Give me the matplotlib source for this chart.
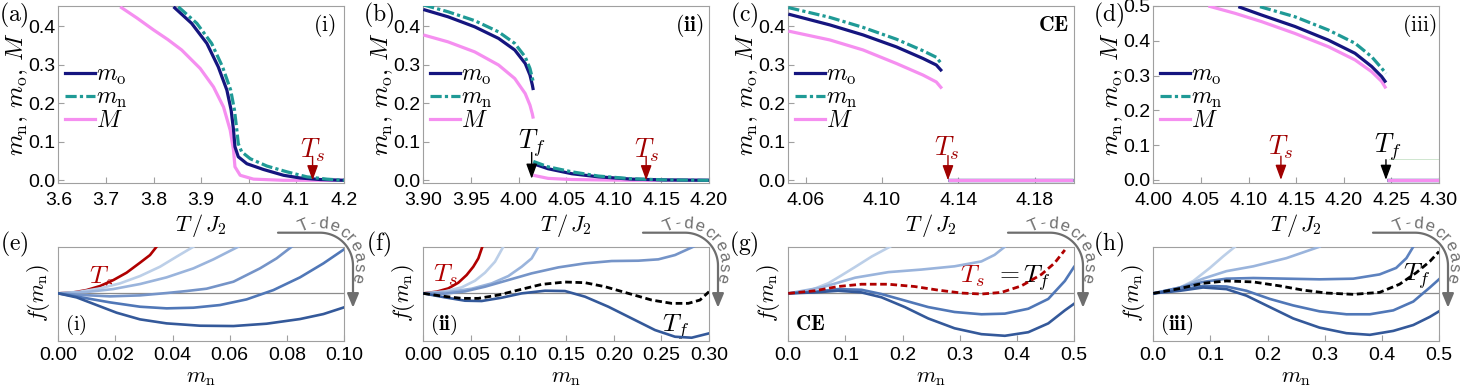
import numpy as np
import matplotlib
matplotlib.use("Agg")
import matplotlib.pyplot as plt
from matplotlib.path import Path
from matplotlib.patches import FancyArrowPatch
from matplotlib.lines import Line2D

plt.rcParams['mathtext.fontset'] = 'cm'
plt.rcParams['font.family'] = ['Liberation Sans', 'DejaVu Sans']

W, H = 1460, 386
SANS = 'Liberation Sans'

# ===================== top row data (order parameters vs T/J2) =====================
# (a) case (i)
a_T_M = [3.730, 3.765, 3.800, 3.830, 3.859, 3.898, 3.926, 3.947, 3.961, 3.968, 3.971, 3.982, 4.010, 4.073, 4.200]
a_M = [0.450, 0.421, 0.390, 0.365, 0.338, 0.290, 0.242, 0.190, 0.130, 0.078, 0.035, 0.013, 0.003, 0.000, 0.000]
a_T_mo = [3.842, 3.880, 3.912, 3.936, 3.954, 3.963, 3.968, 3.971, 3.978, 3.996, 4.031, 4.073, 4.108, 4.150, 4.200]
a_mo = [0.450, 0.407, 0.355, 0.294, 0.234, 0.182, 0.130, 0.087, 0.061, 0.043, 0.028, 0.013, 0.006, 0.002, 0.000]
a_T_mn = [3.852, 3.891, 3.922, 3.945, 3.962, 3.970, 3.975, 3.978, 3.985, 4.003, 4.038, 4.080, 4.122, 4.164, 4.200]
a_mn = [0.450, 0.407, 0.355, 0.294, 0.234, 0.182, 0.130, 0.095, 0.074, 0.056, 0.037, 0.022, 0.009, 0.003, 0.000]

# (b) case (ii)
b_T_hi = [3.900, 3.926, 3.954, 3.979, 3.996, 4.007, 4.012, 4.0145, 4.0155]
b_mo_hi = [0.443, 0.424, 0.398, 0.368, 0.338, 0.303, 0.273, 0.247, 0.234]
b_mn_hi = [0.455, 0.437, 0.414, 0.385, 0.355, 0.320, 0.290, 0.265, 0.255]
b_M_hi = [0.377, 0.359, 0.333, 0.299, 0.264, 0.225, 0.195, 0.172, 0.160]
b_T_lo = [4.0155, 4.031, 4.056, 4.084, 4.119, 4.154, 4.200]
b_mo_lo = [0.043, 0.030, 0.017, 0.009, 0.003, 0.001, 0.000]
b_mn_lo = [0.049, 0.035, 0.022, 0.011, 0.004, 0.001, 0.000]
b_M_lo = [0.013, 0.005, 0.002, 0.001, 0.000, 0.000, 0.000]

# (c) critical endpoint
c_T_hi = [4.051, 4.0727, 4.0901, 4.1075, 4.1214, 4.1284, 4.1313]
c_mo_hi = [0.431, 0.403, 0.377, 0.346, 0.316, 0.299, 0.283]
c_mn_hi = [0.448, 0.4225, 0.3965, 0.366, 0.336, 0.319, 0.301]
c_M_hi = [0.387, 0.364, 0.338, 0.303, 0.273, 0.255, 0.238]
c_T_lo = [4.1345, 4.200]
c_lo = [0.0, 0.0]

# (d) case (iii)
d_T_mo_hi = [4.0893, 4.1138, 4.1488, 4.1838, 4.2118, 4.2293, 4.2398, 4.2443]
d_mo_hi = [0.498, 0.474, 0.441, 0.402, 0.364, 0.326, 0.297, 0.280]
d_T_mn_hi = [4.112, 4.1488, 4.1838, 4.2118, 4.2293, 4.2398, 4.2443]
d_mn_hi = [0.498, 0.469, 0.431, 0.393, 0.354, 0.321, 0.306]
d_T_M_hi = [4.0578, 4.0858, 4.1138, 4.1488, 4.1838, 4.2118, 4.2293, 4.2398, 4.2443]
d_M_hi = [0.500, 0.479, 0.455, 0.421, 0.383, 0.345, 0.311, 0.283, 0.263]
d_T_lo = [4.2455, 4.300]
d_lo = [0.0, 0.0]
d_T_faint = [4.247, 4.300]
d_faint = [0.060, 0.060]

# transition temperatures
Ts = 4.134
Tf_b = 4.0138
Tf_d = 4.2443

# ===================== bottom row data (free energy f(m_n)) =====================
# (e)
e_m_red = [0, 0.0053, 0.0099, 0.0146, 0.0193, 0.0239, 0.0286, 0.0321, 0.0344]
e_f_red = [0, 0.021, 0.071, 0.157, 0.286, 0.443, 0.657, 0.821, 1.000]
e_m_1 = [0, 0.0076, 0.0146, 0.0216, 0.0286, 0.0356, 0.0414, 0.0473]
e_f_1 = [0, 0.036, 0.107, 0.214, 0.371, 0.571, 0.786, 1.000]
e_m_2 = [0, 0.0099, 0.0193, 0.0286, 0.0379, 0.0473, 0.0543, 0.0630]
e_f_2 = [0, 0.029, 0.093, 0.200, 0.343, 0.536, 0.729, 1.000]
e_m_3 = [0, 0.0088, 0.0181, 0.0286, 0.0379, 0.0449, 0.0519, 0.0613, 0.0706, 0.0764, 0.0817]
e_f_3 = [0, -0.036, -0.064, -0.043, 0.007, 0.050, 0.100, 0.250, 0.536, 0.750, 1.000]
e_m_4 = [0, 0.0088, 0.0181, 0.0286, 0.0379, 0.0473, 0.0566, 0.0659, 0.0753, 0.0846, 0.0928, 0.1000]
e_f_4 = [0, -0.093, -0.193, -0.286, -0.321, -0.307, -0.250, -0.129, 0.071, 0.343, 0.643, 0.943]
e_m_5 = [0, 0.0064, 0.0134, 0.0204, 0.0286, 0.0379, 0.0496, 0.0613, 0.0729, 0.0846, 0.0928, 0.1000]
e_f_5 = [0, -0.086, -0.250, -0.414, -0.557, -0.643, -0.693, -0.700, -0.650, -0.550, -0.443, -0.300]

# (f)
f_m_red = [0, 0.0140, 0.0263, 0.0368, 0.0455, 0.0525, 0.0578, 0.0620]
f_f_red = [0, 0.036, 0.107, 0.229, 0.393, 0.571, 0.750, 1.000]
f_m_1 = [0, 0.0228, 0.0403, 0.0543, 0.0648, 0.0753, 0.0840]
f_f_1 = [0, 0.043, 0.129, 0.271, 0.443, 0.679, 1.000]
f_m_2 = [0, 0.0263, 0.0508, 0.0718, 0.0893, 0.1033, 0.1138, 0.1208]
f_f_2 = [0, 0.029, 0.100, 0.214, 0.371, 0.571, 0.750, 1.000]
f_m_3 = [0, 0.0228, 0.0438, 0.0648, 0.0893, 0.1138, 0.1418, 0.1698, 0.1978, 0.2258, 0.2468, 0.2643, 0.2836]
f_f_3 = [0, -0.007, 0.043, 0.143, 0.286, 0.429, 0.557, 0.643, 0.693, 0.700, 0.729, 0.821, 1.000]
f_m_Tf = [0, 0.0193, 0.0403, 0.0578, 0.0788, 0.0998, 0.1243, 0.1488, 0.1698, 0.1908, 0.2153, 0.2398, 0.2608, 0.2783, 0.2905, 0.3000]
f_f_Tf = [0, -0.057, -0.107, -0.107, -0.036, 0.071, 0.193, 0.243, 0.229, 0.143, 0.000, -0.143, -0.214, -0.214, -0.143, 0.036]
f_m_5 = [0, 0.0228, 0.0438, 0.0613, 0.0823, 0.1033, 0.1278, 0.1488, 0.1698, 0.1943, 0.2188, 0.2433, 0.2643, 0.2818, 0.3000]
f_f_5 = [0, -0.086, -0.157, -0.164, -0.093, 0.000, 0.057, 0.050, -0.071, -0.286, -0.536, -0.786, -0.929, -0.950, -0.857]

# (g)
g_m_1 = [0, 0.035, 0.070, 0.093, 0.117, 0.146, 0.178]
g_f_1 = [0, 0.049, 0.217, 0.385, 0.566, 0.790, 1.000]
g_m_2 = [0, 0.058, 0.117, 0.175, 0.233, 0.291, 0.338, 0.361, 0.379]
g_f_2 = [0, 0.126, 0.336, 0.455, 0.510, 0.580, 0.685, 0.825, 1.000]
g_m_red = [0, 0.047, 0.087, 0.128, 0.175, 0.221, 0.262, 0.303, 0.338, 0.373, 0.408, 0.443, 0.466, 0.484]
g_f_red = [0, 0.056, 0.147, 0.196, 0.196, 0.147, 0.070, 0.007, -0.014, 0.021, 0.161, 0.406, 0.650, 0.930]
g_m_3 = [0, 0.047, 0.087, 0.128, 0.163, 0.204, 0.245, 0.291, 0.338, 0.379, 0.420, 0.455, 0.484, 0.500]
g_f_3 = [0, 0.035, 0.091, 0.077, -0.014, -0.154, -0.294, -0.399, -0.448, -0.434, -0.329, -0.119, 0.266, 0.566]
g_m_4 = [0, 0.047, 0.087, 0.128, 0.163, 0.204, 0.245, 0.291, 0.338, 0.379, 0.420, 0.455, 0.484, 0.500]
g_f_4 = [0, 0.021, 0.056, 0.021, -0.084, -0.294, -0.538, -0.748, -0.874, -0.909, -0.832, -0.643, -0.364, -0.224]

# (h)
h_m_1 = [0, 0.035, 0.070, 0.099, 0.122, 0.143]
h_f_1 = [0, 0.056, 0.266, 0.545, 0.790, 1.000]
h_m_2 = [0, 0.047, 0.087, 0.128, 0.175, 0.233, 0.291]
h_f_2 = [0, 0.126, 0.315, 0.476, 0.580, 0.755, 1.000]
h_m_3 = [0, 0.047, 0.087, 0.128, 0.175, 0.233, 0.291, 0.350, 0.396, 0.425, 0.443, 0.455]
h_f_3 = [0, 0.126, 0.245, 0.315, 0.329, 0.315, 0.301, 0.315, 0.406, 0.545, 0.755, 1.000]
h_m_Tf = [0, 0.047, 0.087, 0.128, 0.175, 0.221, 0.262, 0.303, 0.350, 0.396, 0.431, 0.460, 0.484, 0.500]
h_f_Tf = [0, 0.105, 0.217, 0.266, 0.245, 0.161, 0.070, 0.007, -0.021, 0.021, 0.196, 0.441, 0.685, 0.895]
h_m_4 = [0, 0.047, 0.087, 0.128, 0.163, 0.204, 0.245, 0.291, 0.338, 0.379, 0.420, 0.455, 0.484, 0.500]
h_f_4 = [0, 0.077, 0.161, 0.147, 0.056, -0.119, -0.259, -0.385, -0.448, -0.448, -0.364, -0.175, 0.126, 0.301]
h_m_5 = [0, 0.047, 0.087, 0.128, 0.163, 0.204, 0.245, 0.291, 0.338, 0.379, 0.420, 0.455, 0.484, 0.500]
h_f_5 = [0, 0.056, 0.126, 0.091, -0.049, -0.294, -0.538, -0.734, -0.853, -0.888, -0.804, -0.678, -0.503, -0.385]

# ===================== styles =====================
NAVY = '#15157f'
TEAL = '#1f9a96'
PINK = '#f58ff0'
RED = '#b00000'
ARED = '#a00000'
GRAY = '#a0a0a0'
B1, B2, B3, B4, B5 = '#bccfe8', '#9ab4dc', '#7594c8', '#5077b7', '#34599a'
TEAL_LS = (0, (3.5, 1.0, 1.0, 1.0))
BLK_LS = (0, (2.4, 1.3))
LW_TOP = 2.3
LW_BOT = 1.9

fig = plt.figure(figsize=(W / 100, H / 100), dpi=100)

lefts = [58.3, 423.3, 788.3, 1153.3]
aw = 285.7
top_ax = [fig.add_axes([l / W, 1 - 183 / H, aw / W, 177 / H]) for l in lefts]
bot_ax = [fig.add_axes([l / W, 1 - 340.7 / H, aw / W, 94 / H]) for l in lefts]


def style(ax, padx):
    for s in ax.spines.values():
        s.set_color(GRAY)
        s.set_linewidth(0.8)
    ax.tick_params(direction='in', length=4, width=0.8, color=GRAY,
                   labelsize=14, labelcolor='black')
    ax.tick_params(axis='x', pad=padx)
    ax.tick_params(axis='y', pad=2.0)
    for lbl in ax.get_xticklabels() + ax.get_yticklabels():
        lbl.set_fontfamily(SANS)


def arrow(ax, x, y0, y1, color):
    ax.annotate('', xy=(x, y1), xytext=(x, y0),
                arrowprops=dict(arrowstyle='-|>,head_length=0.6,head_width=0.22',
                                color=color, lw=1.0, mutation_scale=15,
                                shrinkA=0, shrinkB=0), zorder=6)


# ---------------- top panels ----------------
top_cfg = [
    dict(xlim=(3.6, 4.2), xt=np.arange(3.6, 4.21, 0.1), fmt='%.1f',
         ylim=(-0.007, 0.452), yt=np.arange(0, 0.41, 0.1), tag=r'$\mathrm{(i)}$'),
    dict(xlim=(3.9, 4.2), xt=np.arange(3.9, 4.201, 0.05), fmt='%.2f',
         ylim=(-0.007, 0.452), yt=np.arange(0, 0.41, 0.1), tag=r'$\mathbf{(ii)}$'),
    dict(xlim=(4.051, 4.2004), xt=[4.06, 4.10, 4.14, 4.18], fmt='%.2f',
         ylim=(-0.007, 0.452), yt=np.arange(0, 0.41, 0.1), tag=r'$\mathbf{CE}$'),
    dict(xlim=(4.0, 4.3), xt=np.arange(4.0, 4.301, 0.05), fmt='%.2f',
         ylim=(-0.009, 0.5), yt=np.arange(0, 0.51, 0.1), tag=r'$\mathrm{(iii)}$'),
]

top_lines = [
    [(a_T_M, a_M, PINK, '-'), (a_T_mo, a_mo, NAVY, '-'), (a_T_mn, a_mn, TEAL, TEAL_LS)],
    [(b_T_hi, b_M_hi, PINK, '-'), (b_T_hi, b_mo_hi, NAVY, '-'), (b_T_hi, b_mn_hi, TEAL, TEAL_LS),
     (b_T_lo, b_M_lo, PINK, '-'), (b_T_lo, b_mo_lo, NAVY, '-'), (b_T_lo, b_mn_lo, TEAL, TEAL_LS)],
    [(c_T_hi, c_M_hi, PINK, '-'), (c_T_hi, c_mo_hi, NAVY, '-'), (c_T_hi, c_mn_hi, TEAL, TEAL_LS),
     (c_T_lo, c_lo, NAVY, '-'), (c_T_lo, c_lo, TEAL, '-'), (c_T_lo, c_lo, PINK, '-')],
    [(d_T_M_hi, d_M_hi, PINK, '-'), (d_T_mo_hi, d_mo_hi, NAVY, '-'), (d_T_mn_hi, d_mn_hi, TEAL, TEAL_LS),
     (d_T_lo, d_lo, NAVY, '-'), (d_T_lo, d_lo, TEAL, '-'), (d_T_lo, d_lo, PINK, '-')],
]

for ax, cfg, lines in zip(top_ax, top_cfg, top_lines):
    for x, y, c, ls in lines:
        ax.plot(x, y, color=c, ls=ls, lw=LW_TOP, solid_capstyle='butt',
                solid_joinstyle='round', zorder=3)
    ax.set_xlim(*cfg['xlim'])
    ax.set_ylim(*cfg['ylim'])
    ax.set_xticks(cfg['xt'])
    ax.set_xticklabels([cfg['fmt'] % v for v in cfg['xt']])
    ax.set_yticks(cfg['yt'])
    ax.set_yticklabels(['%.1f' % v for v in cfg['yt']])
    style(ax, 6.5)
    ax.set_xlabel(r'$T\,/\,J_2$', fontsize=16)
    ax.xaxis.set_label_coords(0.5, -0.162)
    ax.set_ylabel(r'$m_\mathrm{n},\, m_\mathrm{o},\, M$', fontsize=18)
    ax.yaxis.set_label_coords(-0.1, 0.5)
    ax.text(0.93, 0.89, cfg['tag'], transform=ax.transAxes, fontsize=15.5,
            ha='center', va='center')
    handles = [Line2D([], [], color=NAVY, lw=LW_TOP),
               Line2D([], [], color=TEAL, lw=LW_TOP, ls=TEAL_LS),
               Line2D([], [], color=PINK, lw=LW_TOP)]
    ax.legend(handles, [r'$m_\mathrm{o}$', r'$m_\mathrm{n}$', r'$M$'],
              loc='center left', bbox_to_anchor=(0.024, 0.48), frameon=False,
              fontsize=17, handlelength=1.25, handletextpad=0.05,
              labelspacing=0.0, borderaxespad=0.0, borderpad=0.0)

top_ax[3].plot(d_T_faint, d_faint, color='#cfe6cf', lw=0.7, zorder=2)

# transition markers
ax = top_ax[0]
ax.text(Ts, 0.078, r'$T_s$', color=ARED, fontsize=19, ha='center', va='center')
arrow(ax, Ts, 0.062, 0.0, ARED)
ax = top_ax[1]
ax.text(Ts, 0.078, r'$T_s$', color=ARED, fontsize=19, ha='center', va='center')
arrow(ax, Ts, 0.062, 0.0, ARED)
ax.text(Tf_b + 0.0005, 0.097, r'$T_f$', color='black', fontsize=19, ha='center', va='center')
arrow(ax, Tf_b, 0.072, 0.004, 'black')
ax = top_ax[2]
ax.text(Ts, 0.082, r'$T_s$', color=ARED, fontsize=19, ha='center', va='center')
arrow(ax, Ts + 0.0005, 0.064, 0.0, ARED)
ax = top_ax[3]
ax.text(Ts, 0.094, r'$T_s$', color=ARED, fontsize=19, ha='center', va='center')
arrow(ax, Ts, 0.068, 0.0, ARED)
ax.text(Tf_d + 0.002, 0.094, r'$T_f$', color='black', fontsize=19, ha='center', va='center')
arrow(ax, Tf_d, 0.058, 0.0, 'black')

# ---------------- bottom panels ----------------
bot_cfg = [
    dict(xmax=0.10, xt=np.arange(0, 0.101, 0.02), fmt='%.2f', tag=r'$\mathrm{(i)}$'),
    dict(xmax=0.30, xt=np.arange(0, 0.301, 0.05), fmt='%.2f', tag=r'$\mathbf{(ii)}$'),
    dict(xmax=0.50, xt=np.arange(0, 0.501, 0.1), fmt='%.1f', tag=r'$\mathbf{CE}$'),
    dict(xmax=0.50, xt=np.arange(0, 0.501, 0.1), fmt='%.1f', tag=r'$\mathbf{(iii)}$'),
]
bot_lines = [
    [(e_m_red, e_f_red, RED, '-'), (e_m_1, e_f_1, B1, '-'), (e_m_2, e_f_2, B2, '-'),
     (e_m_3, e_f_3, B3, '-'), (e_m_4, e_f_4, B4, '-'), (e_m_5, e_f_5, B5, '-')],
    [(f_m_red, f_f_red, RED, '-'), (f_m_1, f_f_1, B1, '-'), (f_m_2, f_f_2, B2, '-'),
     (f_m_3, f_f_3, B3, '-'), (f_m_5, f_f_5, B5, '-'), (f_m_Tf, f_f_Tf, 'black', BLK_LS)],
    [(g_m_1, g_f_1, B1, '-'), (g_m_2, g_f_2, B2, '-'), (g_m_3, g_f_3, B4, '-'),
     (g_m_4, g_f_4, B5, '-'), (g_m_red, g_f_red, RED, BLK_LS)],
    [(h_m_1, h_f_1, B1, '-'), (h_m_2, h_f_2, B2, '-'), (h_m_3, h_f_3, '#5d82bf', '-'),
     (h_m_4, h_f_4, B4, '-'), (h_m_5, h_f_5, B5, '-'), (h_m_Tf, h_f_Tf, 'black', BLK_LS)],
]

for ax, cfg, lines in zip(bot_ax, bot_cfg, bot_lines):
    ax.axhline(0, color='#8c8c8c', lw=0.9, zorder=1)
    for x, y, c, ls in lines:
        lw = 2.0 if ls is BLK_LS else LW_BOT
        ax.plot(x, y, color=c, ls=ls, lw=lw, zorder=3, solid_joinstyle='round')
    ax.set_xlim(0, cfg['xmax'])
    ax.set_ylim(-1.014, 1.0)
    ax.set_xticks(cfg['xt'])
    ax.set_xticklabels([cfg['fmt'] % v for v in cfg['xt']])
    ax.set_yticks([])
    style(ax, 4.3)
    ax.set_xlabel(r'$m_\mathrm{n}$', fontsize=16)
    ax.xaxis.set_label_coords(0.5, -0.275)
    ax.set_ylabel(r'$f(m_\mathrm{n})$', fontsize=16)
    ax.yaxis.set_label_coords(-0.022, 0.5)
    ax.text(0.025, 0.17, cfg['tag'], transform=ax.transAxes, fontsize=15,
            ha='left', va='center')

FS_B = 18.5
bot_ax[0].text(0.0152, 0.21, r'$T_s$', color=RED, fontsize=FS_B, ha='center', va='baseline', zorder=2)
bot_ax[1].text(0.0235, 0.25, r'$T_s$', color=RED, fontsize=FS_B, ha='center', va='baseline', zorder=2)
bot_ax[1].text(0.265, -0.82, r'$T_f$', color='black', fontsize=FS_B, ha='center', va='baseline', zorder=2)
bot_ax[2].text(0.322, 0.23, r'$T_s$', color=RED, fontsize=FS_B, ha='center', va='baseline', zorder=2)
bot_ax[2].text(0.411, 0.23, r'$= T_f$', color='black', fontsize=FS_B, ha='center', va='baseline', zorder=2)
bot_ax[3].text(0.460, 0.266, r'$T_f$', color='black', fontsize=FS_B, ha='center', va='baseline', zorder=2)

# ---------------- "T-decrease" curved arrows ----------------
ARROW_GRAY = '#6e6e6e'
char_w = {'T': 0.611, '-': 0.333, 'd': 0.556, 'e': 0.556, 'c': 0.5,
          'r': 0.333, 'a': 0.556, 's': 0.5}


def t_decrease(ax):
    bb = ax.get_position()
    R = bb.x1 * W
    Tp = bb.y1 * H
    y0 = Tp + 14
    r = 33
    cx, cy = R - 24, y0 - r
    pts = [(R - 66, y0), (cx, y0)]
    for th in np.linspace(90, 0, 30)[1:]:
        pts.append((cx + r * np.cos(np.radians(th)), cy + r * np.sin(np.radians(th))))
    pts.append((cx + r, Tp - 61))
    verts = [(x / W, y / H) for x, y in pts]
    arr = FancyArrowPatch(path=Path(verts),
                          arrowstyle='-|>,head_length=0.6,head_width=0.25',
                          mutation_scale=14, color=ARROW_GRAY, lw=1.6,
                          transform=fig.transFigure)
    fig.add_artist(arr)
    txt = 'T-decrease'
    ws = [char_w[ch] for ch in txt]
    centers = np.cumsum(ws) - np.array(ws) / 2
    frac = (centers - centers[0]) / (centers[-1] - centers[0])
    for ch, f in zip(txt, frac):
        ang = 113 - 131 * f
        rt = 38.5 - 4.5 * f
        x = cx + rt * np.cos(np.radians(ang))
        y = cy + rt * np.sin(np.radians(ang))
        fig.text(x / W, y / H, ch, rotation=ang - 90, rotation_mode='anchor',
                 ha='center', va='baseline', color=ARROW_GRAY, fontsize=12,
                 fontfamily=SANS)


for ax in bot_ax:
    t_decrease(ax)

# ---------------- panel letters ----------------
letters_top = ['(a)', '(b)', '(c)', '(d)']
letters_bot = ['(e)', '(f)', '(g)', '(h)']
for i in range(4):
    x = 14 + 365 * i
    fig.text(x / W, 1 - 15 / H, r'$\mathrm{%s}$' % letters_top[i], fontsize=17,
             ha='center', va='center')
    fig.text(x / W, 1 - 244 / H, r'$\mathrm{%s}$' % letters_bot[i], fontsize=17,
             ha='center', va='center')

fig.savefig('out.png', dpi=100)
